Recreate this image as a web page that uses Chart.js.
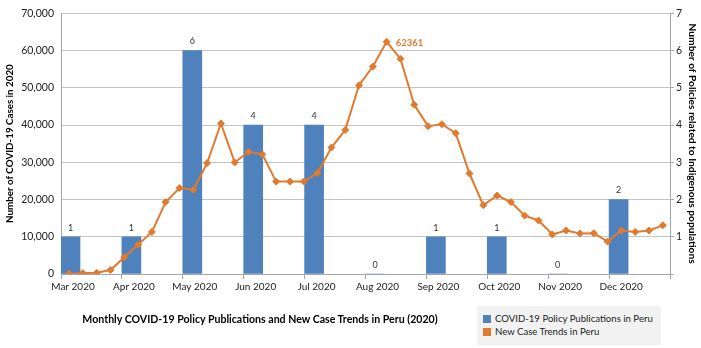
<!DOCTYPE html>
<html lang="en">
<head>
  <meta charset="UTF-8">
  <title>COVID-19 policies and cases in Peru</title>
  <script src="https://cdn.jsdelivr.net/npm/chart.js"></script>
  <style>
    body { margin: 0; background: #fff; }
    .wrap { position: relative; width: 701px; height: 348px; font-family: Lato, "Liberation Sans", sans-serif; }
    .chartTitle { position: absolute; left: 60px; width: 400px; top: 313px; text-align: center; font-weight: bold; font-size: 10.6px; color: #000; }
    .legendBox { position: absolute; left: 477px; top: 306px; width: 184px; height: 39px; background: #f2f2f2; font-size: 9.6px; color: #222; }
    .legendBox div { position: absolute; left: 6px; white-space: nowrap; line-height: 12px; }
    .legendBox span { display: inline-block; width: 8px; height: 8px; margin-right: 4px; vertical-align: -1px; }
  </style>
</head>
<body>
<div class="wrap">
  <canvas id="chart" width="701" height="348"></canvas>
  <div class="chartTitle">Monthly COVID-19 Policy Publications and New Case Trends in Peru (2020)</div>
  <div class="legendBox" id="legend"></div>
</div>

<script>
// months on the x axis and the policy bars (right axis)
const months = ['Mar 2020', 'Apr 2020', 'May 2020', 'Jun 2020', 'Jul 2020',
                'Aug 2020', 'Sep 2020', 'Oct 2020', 'Nov 2020', 'Dec 2020'];
const policyCounts = [1, 1, 6, 4, 4, 0, 1, 1, 0, 2];

// weekly new cases (left axis)
const weeklyCases = [
  100, 260, 340, 1050, 4520, 7840, 11310, 19330, 23060, 22650,
  29780, 40410, 29960, 32830, 32130, 24810, 24810, 24810, 27160, 33960,
  38660, 50670, 55710, 62361, 57800, 45450, 39700, 40220, 37800, 26980,
  18470, 21080, 19330, 15670, 14370, 10630, 11680, 10890, 10970, 8700,
  11680, 11310, 11680, 13060
];

const caseTicks = [0, 10000, 20000, 30000, 40000, 50000, 60000, 70000];
const policyTicks = [0, 1, 2, 3, 4, 5, 6, 7];
const monthTicks = [0, 1, 2, 3, 4, 5, 6, 7, 8, 9, 10];

const blue = '#4F81BD';
const orange = '#E07A2E';
const axisGray = '#a6a6a6';
const gridGray = '#c4c4c4';
const BAR_SHIFT = 0.156; // bars sit just right of the month tick

// labels above bars + the peak label on the line
const labelPlugin = {
  id: 'valueLabels',
  afterDatasetsDraw(chart) {
    const ctx = chart.ctx;
    ctx.save();
    ctx.textAlign = 'center';
    ctx.textBaseline = 'middle';
    ctx.font = '9px Lato, "Liberation Sans", sans-serif';
    ctx.fillStyle = '#333';
    chart.getDatasetMeta(0).data.forEach((bar, i) => {
      ctx.fillText(String(policyCounts[i]), bar.x, bar.y - 9);
    });
    const meta = chart.getDatasetMeta(1);
    const peak = weeklyCases.indexOf(Math.max(...weeklyCases));
    const p = meta.data[peak];
    ctx.textAlign = 'left';
    ctx.font = 'bold 9.5px Lato, "Liberation Sans", sans-serif';
    ctx.fillStyle = orange;
    ctx.fillText(String(weeklyCases[peak]), p.x + 9, p.y + 1);
    ctx.restore();
  }
};

const fontFamily = 'Lato, "Liberation Sans", sans-serif';

const chart = new Chart(document.getElementById('chart'), {
  data: {
    datasets: [{
      type: 'bar',
      label: 'COVID-19 Policy Publications in Peru',
      data: policyCounts.map((v, i) => ({ x: i, y: v })),
      backgroundColor: blue,
      grouped: false,          // v4.5 would otherwise split the slot with the line's axis
      barThickness: 19,
      maxBarThickness: 19,
      xAxisID: 'xb',
      yAxisID: 'y2',
      order: 2
    }, {
      type: 'line',
      label: 'New Case Trends in Peru',
      data: weeklyCases.map((v, i) => ({ x: i, y: v })),
      borderColor: orange,
      backgroundColor: orange,
      borderWidth: 2,
      pointStyle: 'rectRot',
      pointRadius: 3.5,
      pointBorderWidth: 1,
      tension: 0,
      xAxisID: 'xw',
      yAxisID: 'y',
      order: 1
    }]
  },
  options: {
    responsive: false,
    animation: false,
    layout: { padding: { top: 0, bottom: 54, left: 0, right: 0 } },
    plugins: {
      legend: { display: false },
      tooltip: { enabled: false }
    },
    scales: {
      x: {
        type: 'linear',
        position: 'bottom',
        offset: false,
        min: 0,
        max: months.length,
        afterBuildTicks: s => { s.ticks = monthTicks.map(v => ({ value: v })); },
        ticks: {
          callback: v => months[v] || '',
          labelOffset: 12,
          padding: 2,
          maxRotation: 0,
          autoSkip: false,
          color: '#222',
          font: { family: fontFamily, size: 10 }
        },
        grid: { offset: false, drawOnChartArea: false, color: axisGray, tickLength: 5 },
        border: { color: axisGray },
        afterFit: s => { s.height = 20; }
      },
      // hidden axis for the bars, shifted so each bar starts at its month tick
      xb: {
        type: 'linear',
        display: false,
        offset: false,
        min: -BAR_SHIFT,
        max: months.length - BAR_SHIFT
      },
      // hidden axis for the weekly points
      xw: {
        type: 'linear',
        display: false,
        offset: false,
        min: -0.58,
        max: 43.52
      },
      y: {
        position: 'left',
        min: 0,
        max: 70000,
        afterBuildTicks: s => { s.ticks = caseTicks.map(v => ({ value: v })); },
        ticks: {
          callback: v => v.toLocaleString('en-US'),
          padding: 7,
          color: '#222',
          font: { family: fontFamily, size: 10.5 }
        },
        grid: { color: gridGray, drawTicks: false },
        border: { color: axisGray },
        title: { display: true, text: 'Number of COVID-19 Cases in 2020', color: '#000', font: { family: fontFamily, size: 9.8, weight: 'bold' }, padding: { top: 4, bottom: 0 } },
        afterFit: s => { s.width = 61; }
      },
      y2: {
        position: 'right',
        min: 0,
        max: 7,
        afterBuildTicks: s => { s.ticks = policyTicks.map(v => ({ value: v })); },
        ticks: {
          callback: v => (v === 0 ? '' : String(v)),
          padding: 2,
          color: '#222',
          font: { family: fontFamily, size: 10.5 }
        },
        grid: { drawOnChartArea: false, color: axisGray, tickLength: 4 },
        border: { color: axisGray },
        title: { display: true, text: 'Number of Policies related to Indigenous populations', color: '#000', font: { family: fontFamily, size: 10.2, weight: 'bold' }, padding: { top: 3, bottom: 0 } },
        afterFit: s => { s.width = 31; }
      }
    }
  },
  plugins: [labelPlugin]
});

// legend box built from the datasets
const legend = document.getElementById('legend');
chart.data.datasets.forEach((ds, i) => {
  const row = document.createElement('div');
  row.style.top = (7 + i * 13) + 'px';
  row.innerHTML = '<span style="background:' + ds.backgroundColor + '"></span>' + ds.label;
  legend.appendChild(row);
});
</script>
</body>
</html>
